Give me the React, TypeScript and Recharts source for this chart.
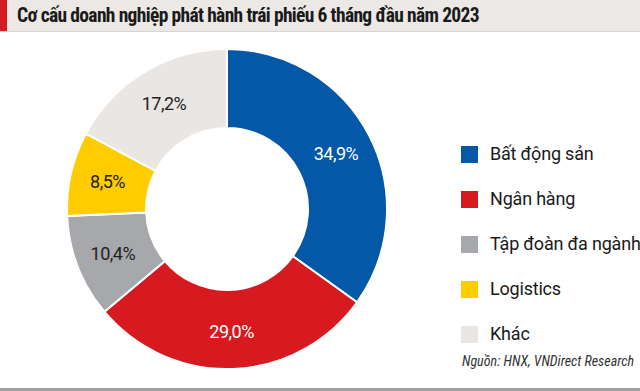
import React from "react";
import { PieChart, Pie, Cell, Legend } from "recharts";

const categories = ["Bất động sản", "Ngân hàng", "Tập đoàn đa ngành", "Logistics", "Khác"];
const values = [34.9, 29.0, 10.4, 8.5, 17.2];
const colors = ["#0358a8", "#d71920", "#a7a8ab", "#ffcc00", "#e9e6e3"];
const labelColors = ["#ffffff", "#ffffff", "#222222", "#222222", "#222222"];

const title = "Cơ cấu doanh nghiệp phát hành trái phiếu 6 tháng đầu năm 2023";
const source = "Nguồn: HNX, VNDirect Research";

const data = categories.map((name, i) => ({ name, value: values[i] }));

const NARROW = "'Liberation Sans Narrow', 'Roboto Condensed', 'DejaVu Sans Condensed', Roboto, sans-serif";
const FONT = "Roboto, 'Noto Sans', sans-serif";

const RAD = Math.PI / 180;

const renderLabel = (props: any) => {
  const { cx, cy, midAngle, innerRadius, outerRadius, index, value } = props;
  const r = (innerRadius + outerRadius) / 2 + 2;
  const x = cx + r * Math.cos(-midAngle * RAD);
  const y = cy + r * Math.sin(-midAngle * RAD);
  return (
    <text
      x={x}
      y={y}
      fill={labelColors[index]}
      textAnchor="middle"
      dominantBaseline="central"
      fontSize={18}
      fontFamily={FONT}
      letterSpacing={-0.5}
    >
      {value.toFixed(1).replace(".", ",") + "%"}
    </text>
  );
};

const renderLegend = () => (
  <div style={{ fontFamily: FONT }}>
    {categories.map((c, i) => (
      <div key={c} style={{ display: "flex", alignItems: "center", height: 45, whiteSpace: "nowrap" }}>
        <div style={{ width: 17, height: 17, background: colors[i], marginRight: 12, flexShrink: 0 }} />
        <span style={{ fontSize: 18, color: "#1a1a1a", position: "relative", top: -1, letterSpacing: -0.2 }}>{c}</span>
      </div>
    ))}
  </div>
);

export default function App() {
  return (
    <div style={{ position: "absolute", left: 0, top: 0, width: 640, height: 391, background: "#fff", overflow: "hidden" }}>
      <div
        style={{
          position: "absolute",
          left: 0,
          top: 0,
          width: 640,
          height: 31,
          background: "#ebe8e5",
          borderBottom: "1px solid #d6d3d0",
        }}
      />
      <div style={{ position: "absolute", left: 0, top: 0, width: 7, height: 31, background: "#d71920" }} />
      <div
        style={{
          position: "absolute",
          left: 17,
          top: 0,
          height: 31,
          lineHeight: "31px",
          fontFamily: NARROW,
          fontWeight: "bold",
          fontSize: 19.5,
          letterSpacing: -0.65,
          color: "#1a1a1a",
          whiteSpace: "nowrap",
        }}
      >
        {title}
      </div>
      <div style={{ position: "absolute", left: 0, top: 0 }}>
        <PieChart width={640} height={391} margin={{ top: 0, right: 0, bottom: 0, left: 0 }}>
          <Pie
            data={data}
            dataKey="value"
            nameKey="name"
            cx={227}
            cy={209}
            innerRadius={81}
            outerRadius={160}
            startAngle={90}
            endAngle={-270}
            stroke="#ffffff"
            strokeWidth={2}
            label={renderLabel}
            labelLine={false}
            isAnimationActive={false}
          >
            {data.map((d, i) => (
              <Cell key={d.name} fill={colors[i]} />
            ))}
          </Pie>
          <Legend
            layout="vertical"
            align="right"
            verticalAlign="top"
            content={renderLegend}
            wrapperStyle={{ left: 461, top: 132, width: 179 }}
          />
        </PieChart>
      </div>
      <div
        style={{
          position: "absolute",
          right: 6,
          top: 353,
          fontFamily: NARROW,
          fontStyle: "italic",
          fontSize: 14,
          color: "#333",
          whiteSpace: "nowrap",
        }}
      >
        {source}
      </div>
      <div style={{ position: "absolute", left: 0, top: 388, width: 640, height: 3, background: "#a0a0a0" }} />
    </div>
  );
}
